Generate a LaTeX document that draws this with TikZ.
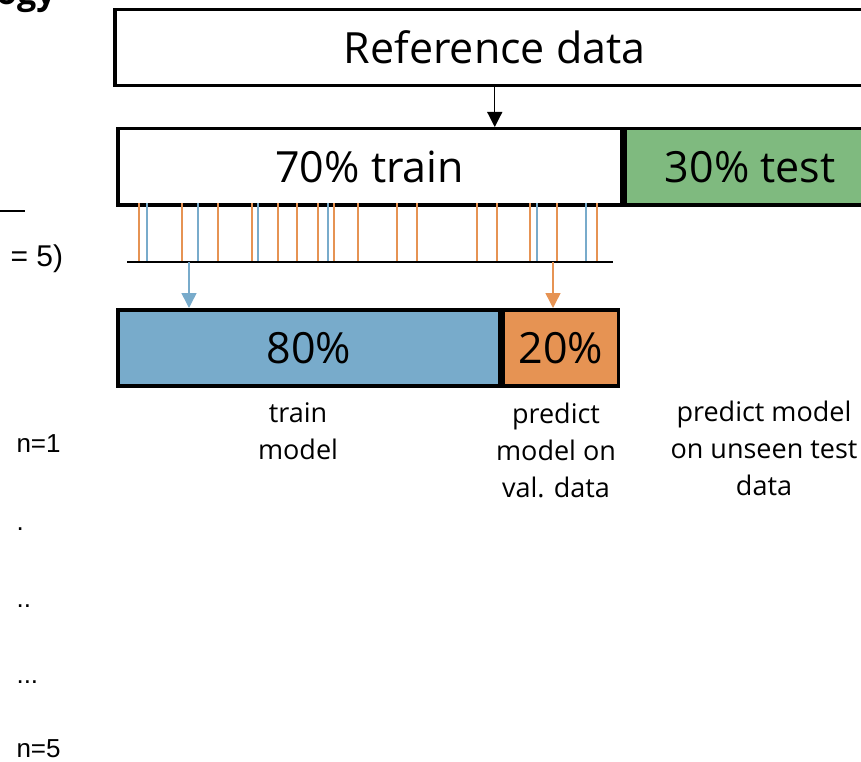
\documentclass[tikz,border=0pt]{standalone}
\usepackage{fontspec}
\setmainfont{Open Sans}
\newfontfamily\arialfont{Liberation Sans}
\usetikzlibrary{arrows.meta}

\definecolor{cvblue}{HTML}{78ABCB}
\definecolor{cvorange}{HTML}{E69353}
\definecolor{testgreen}{HTML}{7FBA7F}

\begin{document}
\begin{tikzpicture}[x=1pt,y=-1pt,
    bar/.style={draw=black,line width=3.5pt,rectangle,inner sep=0pt,minimum height=76pt},
    big/.style={font=\fontsize{43}{46}\selectfont},
    note/.style={font=\fontsize{27}{37}\selectfont,align=center},
    side/.style={font=\arialfont\fontsize{26}{30}\selectfont,anchor=base west},
    tipa/.style={-{Triangle[width=15pt,length=15pt]}}]

   \useasboundingbox (0,0) rectangle (861,762);
   \clip (0,0) rectangle (861,762);

   % boxes
   \node[bar,anchor=north west,minimum width=760pt] (refdata) at (113,8) {};
   \node[big] at (refdata.center) {Reference data};

   \node[bar,anchor=north west,minimum width=504pt] (train) at (116,127) {};
   \node[big] at (train.center) {70\% train};
   \node[bar,anchor=west,fill=testgreen,minimum width=250pt] (test) at (train.east) {};
   \node[big] at (test.center) {30\% test};

   \node[bar,anchor=north west,fill=cvblue,minimum width=382pt] (fit) at (116,308) {};
   \node[big] at (fit.center) {80\%};
   \node[bar,anchor=west,fill=cvorange,minimum width=115pt] (val) at (fit.east) {};
   \node[big] at (val.center) {20\%};

   \draw[line width=1.2pt,tipa] (refdata.south) -- (refdata.south |- train.north);

   % samples
   \foreach \x/\c in {139/cvorange,147/cvblue,182/cvorange,198/cvblue,218/cvorange,
                      252/cvorange,258/cvblue,278/cvorange,297/cvorange,318/cvorange,
                      328/cvblue,334/cvorange,358/cvorange,397/cvorange,417/cvorange,
                      477/cvorange,497/cvorange,530/cvorange,537/cvblue,557/cvorange,
                      586/cvblue,597/cvorange}
     \draw[\c,line width=1.5pt] (\x,203) -- (\x,262);

   \coordinate (splitL) at (127,262);
   \coordinate (splitR) at (613,262);
   \draw[line width=1.5pt] (splitL) -- (splitR);

   \coordinate (fitpick) at (189,262);
   \coordinate (valpick) at (553,262);
   \draw[cvblue,line width=1.5pt,tipa] (fitpick) -- (fitpick |- fit.north);
   \draw[cvorange,line width=1.5pt,tipa] (valpick) -- (valpick |- val.north);

   % notes
   \node[note] (fitnote) at (298,431) {train\\model};
   \node[note] (valnote) at (556,450) {predict\\model on\\val. data};
   \node[note] (testnote) at (764,448) {predict model\\on unseen test\\data};

   % left margin (cut off)
   \node[font=\bfseries\fontsize{34}{40}\selectfont,anchor=base east,inner sep=0pt] (title) at (56,5) {ogy};
   \draw[line width=1.2pt] (0,211) -- (25,211);
   \node[side,font=\arialfont\fontsize{30}{34}\selectfont] (kfold) at (7,266) {= 5)};
   \node[side] (run1) at (13,452) {n=1};
   \node[side] (run2) at (13,530) {.};
   \node[side] (run3) at (13,607) {..};
   \node[side] (run4) at (13,683) {...};
   \node[side] (run5) at (13,757) {n=5};
\end{tikzpicture}
\end{document}
